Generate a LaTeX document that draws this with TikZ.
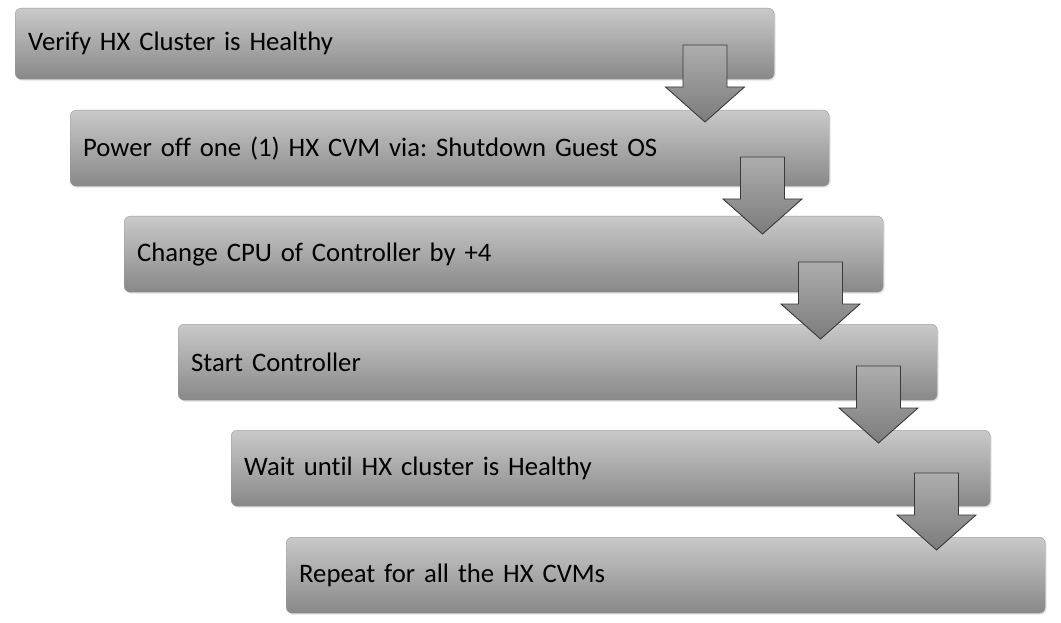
\documentclass[tikz,border=0pt]{standalone}
\usepackage{fontspec}
\setmainfont{Carlito}[Ligatures=NoCommon]
\frenchspacing
\usetikzlibrary{calc,shadows}
\definecolor{boxtop}{HTML}{C9C9C9}
\definecolor{boxbot}{HTML}{888888}
\definecolor{boxedge}{HTML}{9A9A9A}
\definecolor{arrtop}{HTML}{ADADAD}
\definecolor{arrbot}{HTML}{7C7C7C}
\definecolor{arredge}{HTML}{3A3A3A}
\begin{document}
\begin{tikzpicture}[x=1pt,y=-1pt,
  stepbox/.style={rounded corners=6pt, top color=boxtop, bottom color=boxbot,
    draw=boxedge, line width=0.4pt, minimum width=759pt, minimum height=76pt,
    text width=733pt, inner xsep=13pt, align=left, anchor=north west,
    font=\fontsize{26.7}{32}\selectfont, text=black,
    drop shadow={opacity=0.22, shadow xshift=1.5pt, shadow yshift=-1.5pt}},
  blockarrow/.style={top color=arrtop, bottom color=arrbot, draw=arredge,
    line width=0.9pt, line join=miter}]
\useasboundingbox (0,0) rectangle (1061,623);
\node[stepbox, minimum height=71pt] (b1) at (15,8) {Verify HX Cluster is Healthy};
\node[stepbox] (b2) at (70,110) {Power off one (1) HX CVM via: Shutdown Guest OS};
\node[stepbox] (b3) at (124,216) {Change CPU of Controller by +4};
\node[stepbox] (b4) at (178,324) {Start Controller};
\node[stepbox] (b5) at (231,430) {Wait until HX cluster is Healthy};
\node[stepbox] (b6) at (286,537) {Repeat for all the HX CVMs};
\foreach \i/\cx/\ty in {1/705/45, 2/762.5/157, 3/820.5/262, 4/878.5/366, 5/936.5/473}{
  \coordinate (s\i) at (\cx,\ty);
  \coordinate (t\i) at (\cx,\ty+77);
  \shade[blockarrow] ($(s\i)+(-22,0)$) -- ($(s\i)+(22,0)$) -- ($(s\i)+(22,42)$)
    -- ($(s\i)+(39.5,42)$) -- (t\i) -- ($(s\i)+(-39.5,42)$) -- ($(s\i)+(-22,42)$) -- cycle;
}
\end{tikzpicture}
\end{document}
